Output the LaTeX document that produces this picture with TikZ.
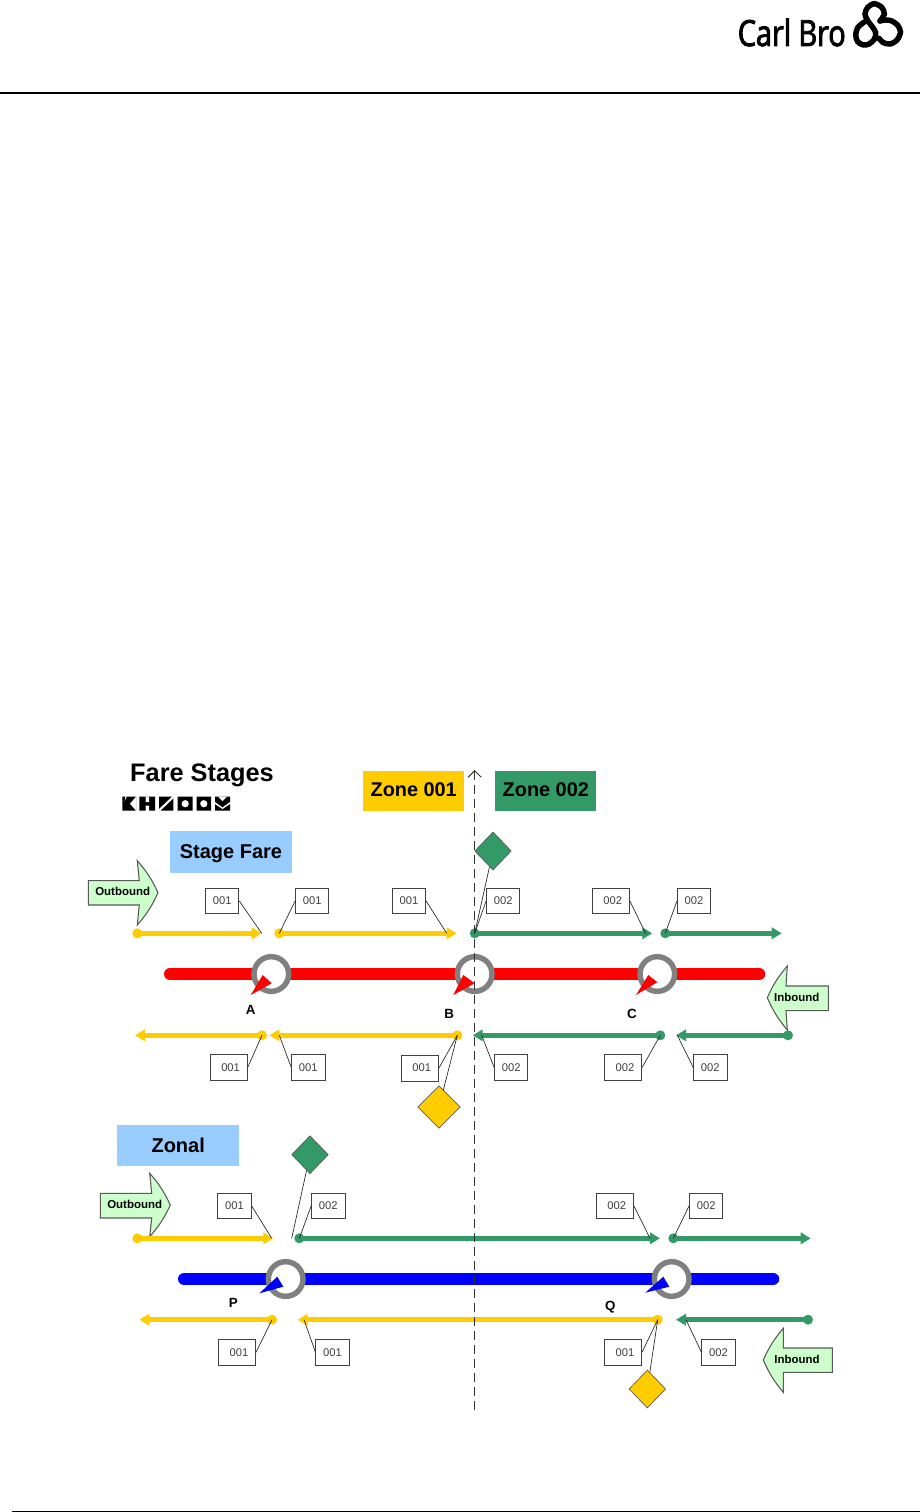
\documentclass[tikz,border=0pt]{standalone}
\usepackage{fontspec}
\setmainfont{Liberation Sans}
\newfontfamily\logofont[FakeStretch=0.8,FakeBold=2.5]{Open Sans}
\usetikzlibrary{arrows.meta,calc,shapes.geometric}
\definecolor{zoneyel}{HTML}{FFCC00}
\definecolor{zonegrn}{HTML}{339966}
\definecolor{stageblue}{HTML}{99CCFF}
\definecolor{palegrn}{HTML}{CCFFCC}
\begin{document}
\begin{tikzpicture}[
  x=0.75pt,y=-0.75pt,
  >={Triangle[length=7.5pt,width=8.5pt]},
  yflow/.style={->,zoneyel,line width=3.4pt},
  gflow/.style={->,zonegrn,line width=3.4pt},
  ydot/.style={circle,fill=zoneyel,inner sep=0pt,minimum size=7.5pt},
  gdot/.style={circle,fill=zonegrn,inner sep=0pt,minimum size=7.5pt},
  tag/.style={draw=black!75,line width=0.6pt,fill=white,inner sep=0pt,minimum width=25pt,minimum height=19.3pt,font=\fontsize{8.4}{10}\selectfont,text=black!75},
  tagw/.style={tag,minimum width=28pt,execute at begin node={\hspace{3pt}}},
  lead/.style={black!85,line width=0.5pt},
  zone/.style={inner sep=0pt,minimum width=76pt,minimum height=30pt,text height=11.7pt,text depth=3.1pt,font=\fontsize{14.9}{18}\bfseries\selectfont},
  head/.style={fill=stageblue,inner sep=0pt,minimum width=91.5pt,minimum height=31pt,text height=12.6pt,text depth=3.2pt,font=\fontsize{15}{18}\bfseries\selectfont},
  stop/.style={circle,draw=black!50,line width=4.1pt,fill=white,inner sep=0pt,minimum size=26pt},
  stn/.style={font=\fontsize{10}{12}\bfseries\selectfont},
  block/.style={draw=black!65,line width=0.8pt,fill=palegrn},
  blocktxt/.style={inner sep=0pt,font=\fontsize{8.6}{10}\bfseries\selectfont},
  fdiam/.style={diamond,draw=black!65,line width=0.5pt,inner sep=0pt,minimum width=27.5pt,minimum height=28.5pt},
]
\useasboundingbox (0,0) rectangle (920,1512);

% page header and foot
\node[anchor=base east,inner sep=0pt,font=\fontsize{27}{30}\logofont\selectfont] (brand) at (846,46) {Carl Bro};
\draw[line width=4.1pt,line cap=round] plot[smooth] coordinates {(879,38.3) (883,42.5) (890,44) (897,40) (900.5,32) (897.5,25) (891,20.7) (885,20) (880,21)};
\draw[line width=4.1pt,line cap=round] plot[smooth] coordinates {(880,21) (884.3,14) (881.7,7.3) (874.3,3.7) (867.7,7.3) (865,14) (867.7,20.7) (872.3,26.7) (875.7,32.7) (874.3,39.3) (869,44) (863.3,45) (857.7,41.7) (855.7,35) (858,27.3) (864.3,22)};
\draw[line width=2.2pt] (0,93) -- (920,93);
\draw[line width=1.2pt] (12,1511.3) -- (920,1511.3);

% titles
\node[inner sep=0pt,font=\fontsize{19}{22}\bfseries\selectfont] (title) at (202,775.5) {Fare Stages};
\fill (122.3,796.7) rectangle (136,810.7) (139.3,796.7) rectangle (155,810.7) (159,796.7) rectangle (173.3,810.7) (177.7,796.7) rectangle (192.7,810.7) (196.7,796.7) rectangle (211,810.7) (215,796.7) rectangle (230,810.7);
\fill[white] (136.2,796.5) -- (130,803.7) -- (136.2,810.9) -- cycle (125.5,796.5) -- (127,796.5) -- (124.5,801) -- cycle;
\fill[white] (145.5,796.5) rectangle (149,802) (145.5,805.5) rectangle (149,810.9);
\draw[white,line width=1.6pt] (158.5,811) -- (173.8,796.4);
\fill[white] (185.2,803.7) circle (3.6) (203.8,803.7) circle (3.6);
\fill[white] (218,796.5) -- (222.5,801) -- (227,796.5) -- cycle (215,802) -- (222.5,807.5) -- (230,802) -- (230,804) -- (222.5,809) -- (215,804) -- cycle;

\node[zone,fill=zoneyel] (z1) at (413.7,791) {Zone 001};
\node[zone,fill=zonegrn] (z2) at (545.8,791) {Zone 002};
\node[head] (sf) at (231,852) {Stage Fare};
\node[head] (zn) at (178.2,1145.8) {Zonal};

% block arrows
\draw[block] (88.3,880.7) -- (139.3,880.7) -- (137.3,860.7) to[bend left=8] (158,892.7) to[bend left=8] (137.3,925) -- (139.3,905) -- (88.3,905) -- cycle;
\node[blocktxt] (ob1) at (122.7,891.7) {Outbound};
\draw[block] (828.3,986) -- (786,986) -- (787.3,966) to[bend right=8] (767.3,997.7) to[bend right=8] (787.3,1030) -- (786,1010.7) -- (828.3,1010.7) -- cycle;
\node[blocktxt] (ib1) at (796.7,997.3) {Inbound};
\draw[block] (100.3,1193.3) -- (151.7,1193.3) -- (149.7,1173.3) to[bend left=8] (170.3,1205) to[bend left=8] (149.7,1236.7) -- (151.7,1218) -- (100.3,1218) -- cycle;
\node[blocktxt] (ob2) at (134.7,1204.7) {Outbound};
\draw[block] (832.3,1348) -- (783.3,1348) -- (783.3,1328.3) to[bend right=8] (763.3,1360) to[bend right=8] (783.3,1392.3) -- (783.3,1372.3) -- (832.3,1372.3) -- cycle;
\node[blocktxt] (ib2) at (797,1359.3) {Inbound};

% stage fare route and stops
\draw[red,line width=9pt,line cap=round] (170,974) coordinate (rl) -- (759.3,974) coordinate (rr);
\node[stop] (sa) at (271.3,974) {};
\node[stop] (sb) at (474.7,974) {};
\node[stop] (sc) at (657.3,974) {};
\fill[red] (250.7,995) -- (262.7,975) -- (271.7,983.3) -- cycle;
\fill[red] (453.3,995) -- (463.3,975) -- (474.7,983.3) -- cycle;
\fill[red] (636,995) -- (648.3,975) -- (657.3,982.3) -- cycle;
\node[stn] (la) at (250.7,1010) {A};
\node[stn] (lb) at (449.3,1014) {B};
\node[stn] (lc) at (632,1014) {C};

% stage fare, outbound flows
\node[ydot] (o1) at (137.3,933.3) {};
\node[ydot] (o2) at (279.3,933.3) {};
\node[gdot] (o3) at (474.7,933.3) {};
\node[gdot] (o4) at (665.3,933.3) {};
\coordinate (o1e) at (261.7,933.3);
\coordinate (o2e) at (456.7,933.3);
\coordinate (o3e) at (652.3,933.3);
\coordinate (o4e) at (781.7,933.3);
\draw[yflow] (o1.center) -- (o1e);
\draw[yflow] (o2.center) -- (o2e);
\draw[gflow] (o3.center) -- (o3e);
\draw[gflow] (o4.center) -- (o4e);
\node[tag] (t1) at (222.2,900.9) {001};
\node[tag] (t2) at (312.2,900.9) {001};
\node[tag] (t3) at (409,900.9) {001};
\node[tag] (t4) at (503.2,900.9) {002};
\node[tagw] (t5) at (610.8,900.9) {002};
\node[tag] (t6) at (694,900.9) {002};
\draw[lead] (t1.east) -- (o1e);
\draw[lead] (t2.west) -- (o2.center);
\draw[lead] (t3.east) -- ($(o2e)+(-10,0)$);
\draw[lead] (t4.west) -- (o3.center);
\draw[lead] (t5.east) -- ($(o3e)+(-6.5,0.5)$);
\draw[lead] (t6.west) -- (o4.center);
\node[fdiam,fill=zonegrn] (d1) at (493,851) {};
\draw[lead] (d1) -- (o3.center);

% stage fare, inbound flows
\node[ydot] (i1) at (262,1035.3) {};
\node[ydot] (i2) at (457.3,1035.3) {};
\node[gdot] (i3) at (660.3,1035.3) {};
\node[gdot] (i4) at (788,1035.3) {};
\coordinate (i1e) at (135,1035.3);
\coordinate (i2e) at (269.3,1035.3);
\coordinate (i3e) at (472.7,1035.3);
\coordinate (i4e) at (676,1035.3);
\draw[yflow] (i1.center) -- (i1e);
\draw[yflow] (i2.center) -- (i2e);
\draw[gflow] (i3.center) -- (i3e);
\draw[gflow] (i4.center) -- (i4e);
\node[tagw] (t7) at (228.6,1067.5) {001};
\node[tag] (t8) at (308.3,1067.5) {001};
\node[tagw] (t9) at (419.8,1068.1) {001};
\node[tag] (t10) at (511.2,1067.5) {002};
\node[tagw] (t11) at (623,1067.5) {002};
\node[tag] (t12) at (710.3,1067.5) {002};
\draw[lead] (t7.east) -- (i1.center);
\draw[lead] (t8.west) -- ($(i2e)+(10,0)$);
\draw[lead] (t9.east) -- (i2.center);
\draw[lead] (t10.west) -- ($(i3e)+(9,0)$);
\draw[lead] (t11.east) -- (i3.center);
\draw[lead] (t12.west) -- ($(i4e)+(1.3,0)$);
\node[fdiam,fill=zoneyel,minimum width=32pt,minimum height=32pt] (d2) at (439,1107) {};
\draw[lead] (d2) -- (i2.center);

% zonal route and stops
\draw[blue,line width=9.4pt,line cap=round] (184.3,1279) coordinate (bl) -- (773,1279) coordinate (br);
\node[stop] (sp) at (285.7,1279) {};
\node[stop] (sq) at (671.7,1279) {};
\fill[blue] (259.3,1293.3) -- (277.3,1276.7) -- (283.3,1286.7) -- cycle;
\fill[blue] (645.3,1292.7) -- (663.3,1276.7) -- (669.3,1286.7) -- cycle;
\node[stn] (lp) at (233.3,1302.7) {P};
\node[stn] (lq) at (610.3,1306.7) {Q};

% zonal, outbound flows
\node[ydot] (p1) at (137.3,1238.3) {};
\node[gdot] (p2) at (299.3,1238.3) {};
\node[gdot] (p3) at (673.3,1238.3) {};
\coordinate (p1e) at (273.3,1238.3);
\coordinate (p2e) at (660,1238.3);
\coordinate (p3e) at (810.7,1238.3);
\coordinate (p0) at (291.7,1238.3);
\draw[yflow] (p1.center) -- (p1e);
\draw[gflow] (p2.center) -- (p2e);
\draw[gflow] (p3.center) -- (p3e);
\node[tag] (t13) at (234.5,1205.8) {001};
\node[tag] (t14) at (328.3,1205.8) {002};
\node[tagw] (t15) at (614.8,1205.8) {002};
\node[tag] (t16) at (706.2,1205.8) {002};
\draw[lead] (t13.east) -- ($(p1e)+(-1.6,0)$);
\draw[lead] (t14.west) -- (p2.center);
\draw[lead] (t15.east) -- ($(p2e)+(-10,0)$);
\draw[lead] (t16.west) -- (p3.center);
\node[fdiam,fill=zonegrn] (d3) at (310,1154.7) {};
\draw[lead] (d3) -- (p0);

% zonal, inbound flows
\node[ydot] (q1) at (272,1319.7) {};
\node[ydot] (q2) at (657.7,1319.7) {};
\node[gdot] (q3) at (808,1319.7) {};
\coordinate (q1e) at (139.3,1319.7);
\coordinate (q2e) at (297.7,1319.7);
\coordinate (q3e) at (676,1319.7);
\draw[yflow] (q1.center) -- (q1e);
\draw[yflow] (q2.center) -- (q2e);
\draw[gflow] (q3.center) -- (q3e);
\node[tagw] (t17) at (237,1352.2) {001};
\node[tag] (t18) at (332.5,1352.2) {001};
\node[tagw] (t19) at (623,1352.2) {001};
\node[tag] (t20) at (718.5,1352.2) {002};
\draw[lead] (t17.east) -- (q1.center);
\draw[lead] (t18.west) -- ($(q2e)+(6.3,0)$);
\draw[lead] (t19.east) -- (q2.center);
\draw[lead] (t20.west) -- ($(q3e)+(10,0)$);
\node[fdiam,fill=zoneyel] (d4) at (647.3,1389) {};
\draw[lead] (d4) -- (q2.center);

% zone boundary
\coordinate (axb) at (474.7,1410);
\coordinate (axt) at (474.7,770);
\draw[-{Straight Barb[length=5pt,width=10pt]},black!80,line width=0.7pt,dash pattern=on 6.5pt off 4pt] (axb) -- (axt);
\end{tikzpicture}
\end{document}
